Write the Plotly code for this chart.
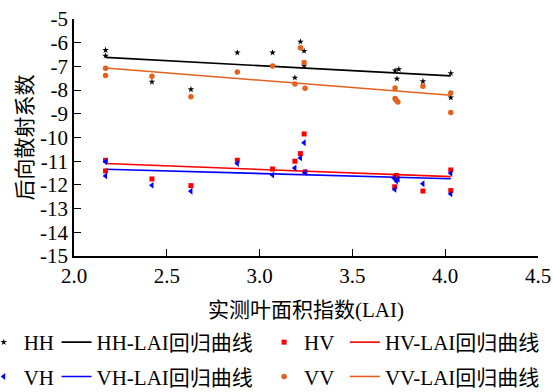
import plotly.graph_objects as go

# ---- data ----
hh_x = [2.17, 2.17, 2.42, 2.63, 2.88, 3.07, 3.22, 3.24, 3.24, 3.19, 3.73, 3.75, 3.74, 3.88, 4.03, 4.03]
hh_y = [-6.31, -6.55, -7.65, -7.97, -6.42, -6.42, -5.96, -6.35, -6.98, -7.48, -7.18, -7.12, -7.52, -7.63, -7.29, -8.32]

vv_x = [2.17, 2.17, 2.42, 2.63, 2.88, 3.07, 3.22, 3.24, 3.19, 3.245, 3.73, 3.73, 3.735, 3.745, 3.88, 4.03, 4.03]
vv_y = [-7.08, -7.38, -7.42, -8.28, -7.24, -6.98, -6.21, -6.84, -7.74, -7.92, -7.91, -8.35, -8.42, -8.50, -7.84, -8.12, -8.94]

hv_x = [2.17, 2.17, 2.42, 2.63, 2.88, 3.07, 3.24, 3.22, 3.19, 3.245, 3.737, 3.73, 3.728, 3.88, 4.03, 4.03]
hv_y = [-10.96, -11.41, -11.75, -12.03, -10.96, -11.33, -9.85, -10.68, -11.0, -11.45, -11.6, -11.65, -12.08, -12.26, -11.37, -12.24]

vh_x = [2.17, 2.17, 2.42, 2.63, 2.88, 3.07, 3.24, 3.22, 3.19, 3.245, 3.725, 3.737, 3.746, 3.728, 3.88, 4.03, 4.03]
vh_y = [-11.02, -11.62, -12.02, -12.27, -11.1, -11.58, -10.22, -10.86, -11.29, -11.48, -11.72, -11.84, -11.76, -12.19, -11.95, -11.51, -12.38]

fit_x = [2.17, 4.03]
hh_fit = [-6.62, -7.40]
hv_fit = [-11.10, -11.65]
vh_fit = [-11.34, -11.74]
vv_fit = [-7.07, -8.22]

x_ticks = [2.0, 2.5, 3.0, 3.5, 4.0, 4.5]
y_ticks = list(range(-15, -4))

BLACK = "#000000"
RED = "#ff0000"
BLUE = "#0000ff"
ORANGE = "#e3621e"

FONT = "'Liberation Serif', 'Noto Sans CJK SC', serif"

fig = go.Figure()

def pts(x, y, name, sym, color, size, legend, group):
    fig.add_trace(go.Scatter(x=x, y=y, mode="markers", name=name,
                             marker=dict(symbol=sym, color=color, size=size, line=dict(width=0)),
                             legend=legend, legendgroup=group))

def fit(y, name, color, legend, group):
    fig.add_trace(go.Scatter(x=fit_x, y=y, mode="lines", name=name,
                             line=dict(color=color, width=1.6),
                             legend=legend, legendgroup=group))

# draw order (group "a" = first legend row, "b" = second row)
fit(hh_fit, "HH-LAI回归曲线", BLACK, "legend2", "a")
fit(hv_fit, "HV-LAI回归曲线", RED, "legend4", "a")
fit(vv_fit, "VV-LAI回归曲线", ORANGE, "legend4", "b")
fit(vh_fit, "VH-LAI回归曲线", BLUE, "legend2", "b")
pts(hh_x, hh_y, "HH", "star", BLACK, 5, "legend", "a")
pts(hv_x, hv_y, "HV", "square", RED, 5, "legend3", "a")
pts(vv_x, vv_y, "VV", "circle", ORANGE, 5.5, "legend3", "b")
pts(vh_x, vh_y, "VH", "triangle-left", BLUE, 6, "legend", "b")

L, R, T, B = 73.5, 14.5, 19, 136
W, H = 553, 392
pw = W - L - R
ph = H - T - B

def px2x(p):
    return (p - L) / pw

def py2y(p):
    return (H - B - p) / ph

leg_common = dict(orientation="v", xanchor="left", yanchor="top", bgcolor="rgba(0,0,0,0)",
                  font=dict(family=FONT, size=21, color=BLACK), tracegroupgap=4,
                  traceorder="grouped", itemsizing="trace")
legtop = py2y(322)

fig.update_layout(
    width=W, height=H,
    margin=dict(l=L, r=R, t=T, b=B, autoexpand=False),
    paper_bgcolor="white", plot_bgcolor="white",
    font=dict(family=FONT, size=21, color=BLACK),
    showlegend=True,
    legend=dict(x=px2x(-17), y=legtop, **leg_common),
    legend2=dict(x=px2x(56), y=legtop, **leg_common),
    legend3=dict(x=px2x(264), y=legtop, **leg_common),
    legend4=dict(x=px2x(345), y=legtop, **leg_common),
    xaxis=dict(range=[2.0, 4.5], tickvals=x_ticks, ticktext=[f"{v:.1f}" for v in x_ticks],
               showgrid=False, zeroline=False, showline=True, linecolor=BLACK, linewidth=1.5,
               ticks="inside", ticklen=7, tickwidth=1.3, tickcolor=BLACK,
               tickfont=dict(family="'Liberation Serif', serif", size=21, color=BLACK),
               title=dict(text="实测叶面积指数(LAI)", font=dict(family=FONT, size=21, color=BLACK), standoff=15),
               mirror=False),
    yaxis=dict(range=[-15, -5], tickvals=y_ticks, ticktext=[str(v) for v in y_ticks],
               showgrid=False, zeroline=False, showline=True, linecolor=BLACK, linewidth=1.5,
               ticks="inside", ticklen=7, tickwidth=1.3, tickcolor=BLACK,
               tickfont=dict(family="'Liberation Serif', serif", size=21, color=BLACK),
               title=dict(text="后向散射系数", font=dict(family=FONT, size=21, color=BLACK), standoff=2),
               mirror=False),
)

fig.write_html("out.html", config={"displayModeBar": False},
               post_script="document.body.style.margin='0';document.body.style.padding='0';")
